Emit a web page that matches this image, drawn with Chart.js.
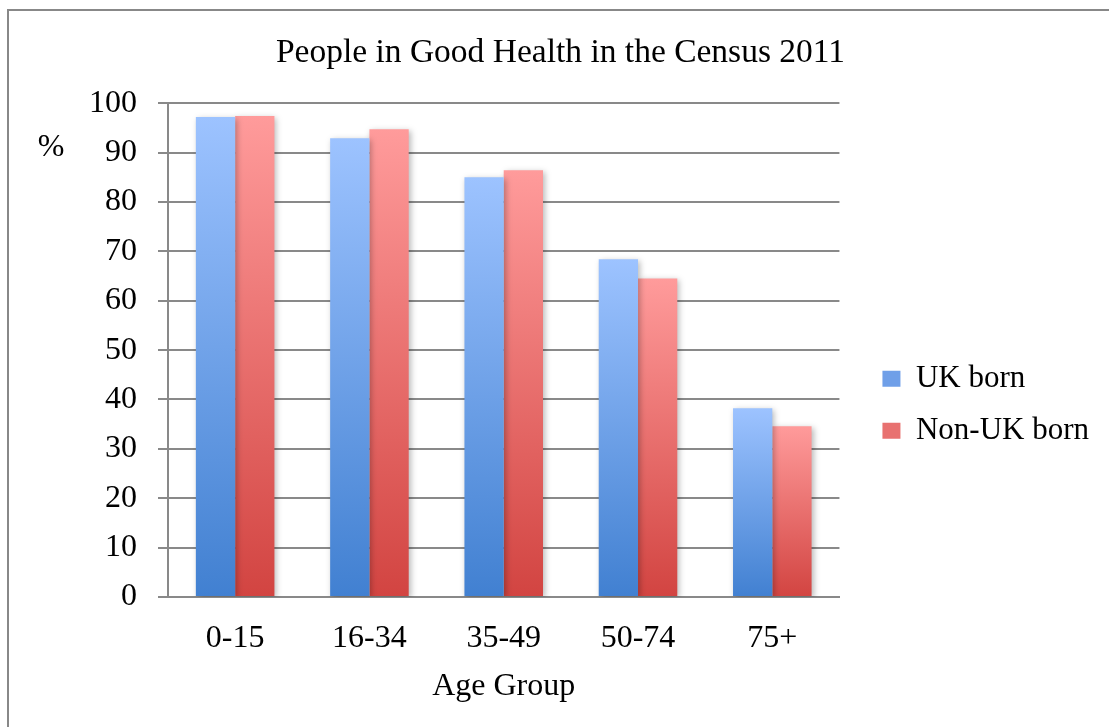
<!DOCTYPE html>
<html>
<head>
<meta charset="utf-8">
<title>People in Good Health in the Census 2011</title>
<script src="https://cdn.jsdelivr.net/npm/chart.js@4.4.1/dist/chart.umd.min.js"></script>
<style>
  html, body { margin: 0; padding: 0; background: #fff; overflow: hidden; }
  .frame { position: absolute; left: 7px; top: 9px; width: 1130px; height: 740px; border: 2px solid #888; }
  .chart-box { position: absolute; left: 0; top: 0; width: 1109px; height: 727px; }
</style>
</head>
<body>
<div class="frame"></div>
<div class="chart-box"><canvas id="healthChart" width="1109" height="727"></canvas></div>
<script>
const ageGroups = ['0-15', '16-34', '35-49', '50-74', '75+'];
const ukBorn = [97.2, 92.9, 85.0, 68.4, 38.2];
const nonUkBorn = [97.4, 94.7, 86.4, 64.5, 34.6];
const yTickValues = [0, 10, 20, 30, 40, 50, 60, 70, 80, 90, 100];

const FONT = "'Liberation Serif', 'Times New Roman', serif";
const GRID = '#898989';

// each bar gets its own top-to-bottom gradient
function barGradient(light, dark) {
    return function (c) {
        const chart = c.chart;
        if (c.type !== 'data' || !chart.chartArea) return dark;
        const y = chart.scales.y;
        const top = y.getPixelForValue(c.raw);
        const bottom = y.getPixelForValue(0);
        const g = chart.ctx.createLinearGradient(0, top, 0, bottom);
        g.addColorStop(0, light);
        g.addColorStop(1, dark);
        return g;
    };
}

const barShadow = {
    id: 'barShadow',
    beforeDatasetsDraw(chart) {
        const ctx = chart.ctx;
        ctx.save();
        ctx.shadowColor = 'rgba(0,0,0,0.28)';
        ctx.shadowBlur = 6;
        ctx.shadowOffsetX = 2;
        ctx.shadowOffsetY = 2;
    },
    afterDatasetsDraw(chart) {
        chart.ctx.restore();
    }
};

// horizontal "%" unit label left of the y ticks
const unitLabel = {
    id: 'unitLabel',
    afterDraw(chart) {
        const ctx = chart.ctx;
        ctx.save();
        ctx.font = '32px ' + FONT;
        ctx.fillStyle = '#000';
        ctx.textAlign = 'center';
        ctx.textBaseline = 'middle';
        ctx.fillText('%', 51, chart.scales.y.getPixelForValue(91));
        ctx.restore();
    }
};

const legendFills = ['#6f9fe8', '#e87170'];

new Chart(document.getElementById('healthChart'), {
    type: 'bar',
    data: {
        labels: ageGroups,
        datasets: [{
            label: 'UK born',
            data: ukBorn,
            backgroundColor: barGradient('#9dc3ff', '#4180d1')
        }, {
            label: 'Non-UK born',
            data: nonUkBorn,
            backgroundColor: barGradient('#ff9b9b', '#d24441')
        }]
    },
    options: {
        responsive: false,
        animation: false,
        categoryPercentage: 0.585,
        barPercentage: 1,
        layout: { padding: { left: 22, right: 10, top: 0, bottom: 20 } },
        plugins: {
            title: {
                display: true,
                text: 'People in Good Health in the Census 2011',
                color: '#000',
                font: { family: FONT, size: 33.5, weight: 'normal' },
                padding: { top: 33, bottom: 30 }
            },
            legend: {
                position: 'right',
                maxWidth: 260,
                // empty title just pushes the items down a bit
                title: { display: true, text: '', padding: 44 },
                labels: {
                    color: '#000',
                    font: { family: FONT, size: 31 },
                    boxWidth: 18,
                    boxHeight: 16,
                    padding: 21,
                    generateLabels(chart) {
                        const items = Chart.defaults.plugins.legend.labels.generateLabels(chart);
                        items.forEach((it, i) => {
                            it.fillStyle = legendFills[i];
                            it.strokeStyle = legendFills[i];
                            it.lineWidth = 0;
                        });
                        return items;
                    }
                }
            },
            tooltip: { enabled: false }
        },
        scales: {
            x: {
                grid: { display: false, drawTicks: false },
                border: { display: true, color: GRID, width: 2 },
                ticks: { color: '#000', font: { family: FONT, size: 32 }, padding: 22 },
                title: {
                    display: true,
                    text: 'Age Group',
                    color: '#000',
                    font: { family: FONT, size: 32 },
                    padding: { top: 0, bottom: 1 }
                },
                afterFit(scale) { scale.height = 110; }
            },
            y: {
                min: 0,
                max: 100,
                afterBuildTicks(scale) {
                    scale.ticks = yTickValues.map(v => ({ value: v }));
                },
                grid: { color: GRID, lineWidth: 2, drawTicks: true, tickLength: 10 },
                border: { display: true, color: GRID, width: 2 },
                ticks: { color: '#000', font: { family: FONT, size: 32 }, padding: 21 },
                afterFit(scale) { scale.width = 146; }
            },
            gap: {
                // empty strip between plot and legend
                type: 'linear',
                position: 'right',
                display: true,
                grid: { display: false, drawTicks: false },
                border: { display: false },
                ticks: { display: false },
                afterFit(scale) { scale.width = 22; }
            }
        }
    },
    plugins: [barShadow, unitLabel]
});
</script>
</body>
</html>
